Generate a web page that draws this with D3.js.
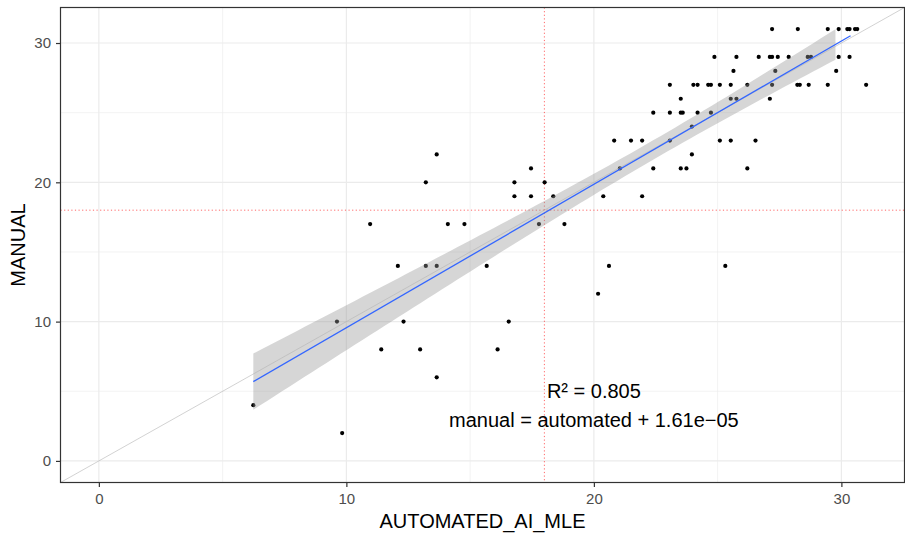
<!DOCTYPE html>
<html>
<head>
<meta charset="utf-8">
<script src="https://cdn.jsdelivr.net/npm/d3@7"></script>
<style>
  body { margin: 0; background: #fff; }
  svg { display: block; font-family: "Liberation Sans", Arial, sans-serif; }
</style>
</head>
<body>
<svg width="905" height="534"></svg>
<script>
// points (x = AUTOMATED_AI_MLE, y = MANUAL)
const automated = [
  27.20, 28.24, 29.45, 29.89, 30.24, 30.33, 30.55, 30.64,
  24.87, 25.76, 26.66, 27.11, 27.20, 27.43, 27.87, 28.64, 28.77, 29.89, 30.33,
  25.64, 27.33, 29.79,
  23.07, 24.02, 24.19, 24.62, 24.73, 25.09, 25.53, 26.20, 27.20, 28.22, 28.32, 28.68, 29.45, 31.00,
  23.51, 25.53, 25.76, 27.11,
  22.40, 23.07, 23.51, 23.59, 24.19, 24.73,
  23.96,
  20.82, 21.50, 21.95, 23.07, 25.09, 25.53, 26.53,
  13.65, 23.96,
  17.46, 21.05, 22.40, 23.51, 23.74, 26.20,
  13.21, 16.79, 18.01,
  16.79, 17.46, 18.36, 20.38, 21.95,
  10.96, 14.10, 14.77, 17.78, 18.81,
  12.08, 13.21, 13.65, 15.67, 20.61, 25.31,
  20.17,
  9.62, 12.31, 16.56,
  11.41, 12.98, 16.11,
  13.65,
  6.24,
  9.83
];
const manual = [
  31, 31, 31, 31, 31, 31, 31, 31,
  29, 29, 29, 29, 29, 29, 29, 29, 29, 29, 29,
  28, 28, 28,
  27, 27, 27, 27, 27, 27, 27, 27, 27, 27, 27, 27, 27, 27,
  26, 26, 26, 26,
  25, 25, 25, 25, 25, 25,
  24,
  23, 23, 23, 23, 23, 23, 23,
  22, 22,
  21, 21, 21, 21, 21, 21,
  20, 20, 20,
  19, 19, 19, 19, 19,
  17, 17, 17, 17, 17,
  14, 14, 14, 14, 14, 14,
  12,
  10, 10, 10,
  8, 8, 8,
  6,
  4,
  2
];

const majorTicks = [0, 10, 20, 30];
const minorTicks = [5, 15, 25];
const refX = 18;          // vertical dotted line
const refY = 18;          // horizontal dotted line
const smoothEnd = 30.37;  // where the fitted line stops
const ribbonEnd = 29.76;  // where the grey band stops
const labelLines = ["R\u00B2 = 0.805", "manual = automated + 1.61e\u221205"];
const labelPos = [20, 4];

const svg = d3.select("svg");
const pLeft = 60.5, pRight = 904.5, pTop = 7.5, pBottom = 482.5;

const data = automated.map((a, i) => ({ x: a, y: manual[i] }));

function padded(vals) {
  const lo = Math.min(0, d3.min(vals)), hi = d3.max(vals);
  const pad = (hi - lo) * 0.05;
  return [lo - pad, hi + pad];
}

const x = d3.scaleLinear().domain(padded(automated)).range([pLeft, pRight]);
const y = d3.scaleLinear().domain(padded(manual)).range([pBottom, pTop]);

// clip for the panel
svg.append("clipPath").attr("id", "panel")
  .append("rect").attr("x", pLeft).attr("y", pTop)
  .attr("width", pRight - pLeft).attr("height", pBottom - pTop);

const grid = svg.append("g");
grid.selectAll(".vmin").data(minorTicks).enter().append("line")
  .attr("x1", d => x(d)).attr("x2", d => x(d)).attr("y1", pTop).attr("y2", pBottom)
  .attr("stroke", "#ebebeb").attr("stroke-width", 0.6);
grid.selectAll(".hmin").data(minorTicks).enter().append("line")
  .attr("y1", d => y(d)).attr("y2", d => y(d)).attr("x1", pLeft).attr("x2", pRight)
  .attr("stroke", "#ebebeb").attr("stroke-width", 0.6);
grid.selectAll(".vmaj").data(majorTicks).enter().append("line")
  .attr("x1", d => x(d)).attr("x2", d => x(d)).attr("y1", pTop).attr("y2", pBottom)
  .attr("stroke", "#ebebeb").attr("stroke-width", 1.2);
grid.selectAll(".hmaj").data(majorTicks).enter().append("line")
  .attr("y1", d => y(d)).attr("y2", d => y(d)).attr("x1", pLeft).attr("x2", pRight)
  .attr("stroke", "#ebebeb").attr("stroke-width", 1.2);

const plot = svg.append("g").attr("clip-path", "url(#panel)");

// reference lines
plot.append("line")
  .attr("x1", pLeft).attr("x2", pRight).attr("y1", y(refY)).attr("y2", y(refY))
  .attr("stroke", "red").attr("stroke-width", 0.6).attr("stroke-dasharray", "1.2 2.4");
plot.append("line")
  .attr("x1", x(refX)).attr("x2", x(refX)).attr("y1", pTop).attr("y2", pBottom)
  .attr("stroke", "red").attr("stroke-width", 0.6).attr("stroke-dasharray", "1.2 2.4");

// points
plot.selectAll("circle").data(data).enter().append("circle")
  .attr("cx", d => x(d.x)).attr("cy", d => y(d.y)).attr("r", 2.1)
  .attr("fill", "#000");

// linear fit with 95% confidence band
const n = data.length;
const mx = d3.mean(automated), my = d3.mean(manual);
const sxx = d3.sum(automated, v => (v - mx) ** 2);
const sxy = d3.sum(data, d => (d.x - mx) * (d.y - my));
const slope = sxy / sxx, icpt = my - slope * mx;
const s = Math.sqrt(d3.sum(data, d => (d.y - icpt - slope * d.x) ** 2) / (n - 2));
const tq = 1.987;
const xmin = d3.min(automated);
const band = d3.range(0, 81).map(i => {
  const xv = xmin + (ribbonEnd - xmin) * i / 80;
  const fit = icpt + slope * xv;
  const se = s * Math.sqrt(1 / n + (xv - mx) ** 2 / sxx);
  return { x: xv, lo: fit - tq * se, hi: fit + tq * se };
});
plot.append("path").datum(band)
  .attr("d", d3.area().x(d => x(d.x)).y0(d => y(d.lo)).y1(d => y(d.hi)))
  .attr("fill", "#999999").attr("fill-opacity", 0.4);

// identity line
const dom = x.domain();
plot.append("line")
  .attr("x1", x(dom[0])).attr("y1", y(dom[0])).attr("x2", x(dom[1])).attr("y2", y(dom[1]))
  .attr("stroke", "#b3b3b3").attr("stroke-width", 0.6);

plot.append("path").datum([xmin, smoothEnd])
  .attr("d", d3.line().x(d => x(d)).y(d => y(icpt + slope * d)))
  .attr("stroke", "#3366ff").attr("stroke-width", 1.3).attr("fill", "none");

// annotation
const ann = svg.append("text")
  .attr("x", x(labelPos[0])).attr("y", y(labelPos[1]))
  .attr("text-anchor", "middle").attr("font-size", 20).attr("fill", "#000");
ann.selectAll("tspan").data(labelLines).enter().append("tspan")
  .attr("x", x(labelPos[0]))
  .attr("dy", (d, i) => i === 0 ? "-0.38em" : "1.45em")
  .text(d => d);

// panel border
svg.append("rect").attr("x", pLeft).attr("y", pTop)
  .attr("width", pRight - pLeft).attr("height", pBottom - pTop)
  .attr("fill", "none").attr("stroke", "#333333").attr("stroke-width", 1.2);

// axes
const xAxis = svg.append("g").attr("transform", `translate(0,${pBottom})`)
  .call(d3.axisBottom(x).tickValues(majorTicks).tickSize(4.5).tickPadding(6));
const yAxis = svg.append("g").attr("transform", `translate(${pLeft},0)`)
  .call(d3.axisLeft(y).tickValues(majorTicks).tickSize(4.5).tickPadding(5));
[xAxis, yAxis].forEach(g => {
  g.select(".domain").remove();
  g.selectAll(".tick line").attr("stroke", "#333333").attr("stroke-width", 1.2);
  g.selectAll(".tick text").attr("fill", "#4d4d4d").attr("font-size", 15)
    .attr("font-family", "Liberation Sans, Arial, sans-serif");
});

svg.append("text")
  .attr("x", (pLeft + pRight) / 2).attr("y", 527.5)
  .attr("text-anchor", "middle").attr("font-size", 20).attr("fill", "#000")
  .text("AUTOMATED_AI_MLE");
svg.append("text")
  .attr("transform", `translate(24.5,${(pTop + pBottom) / 2}) rotate(-90)`)
  .attr("text-anchor", "middle").attr("font-size", 20).attr("fill", "#000")
  .text("MANUAL");
</script>
</body>
</html>
